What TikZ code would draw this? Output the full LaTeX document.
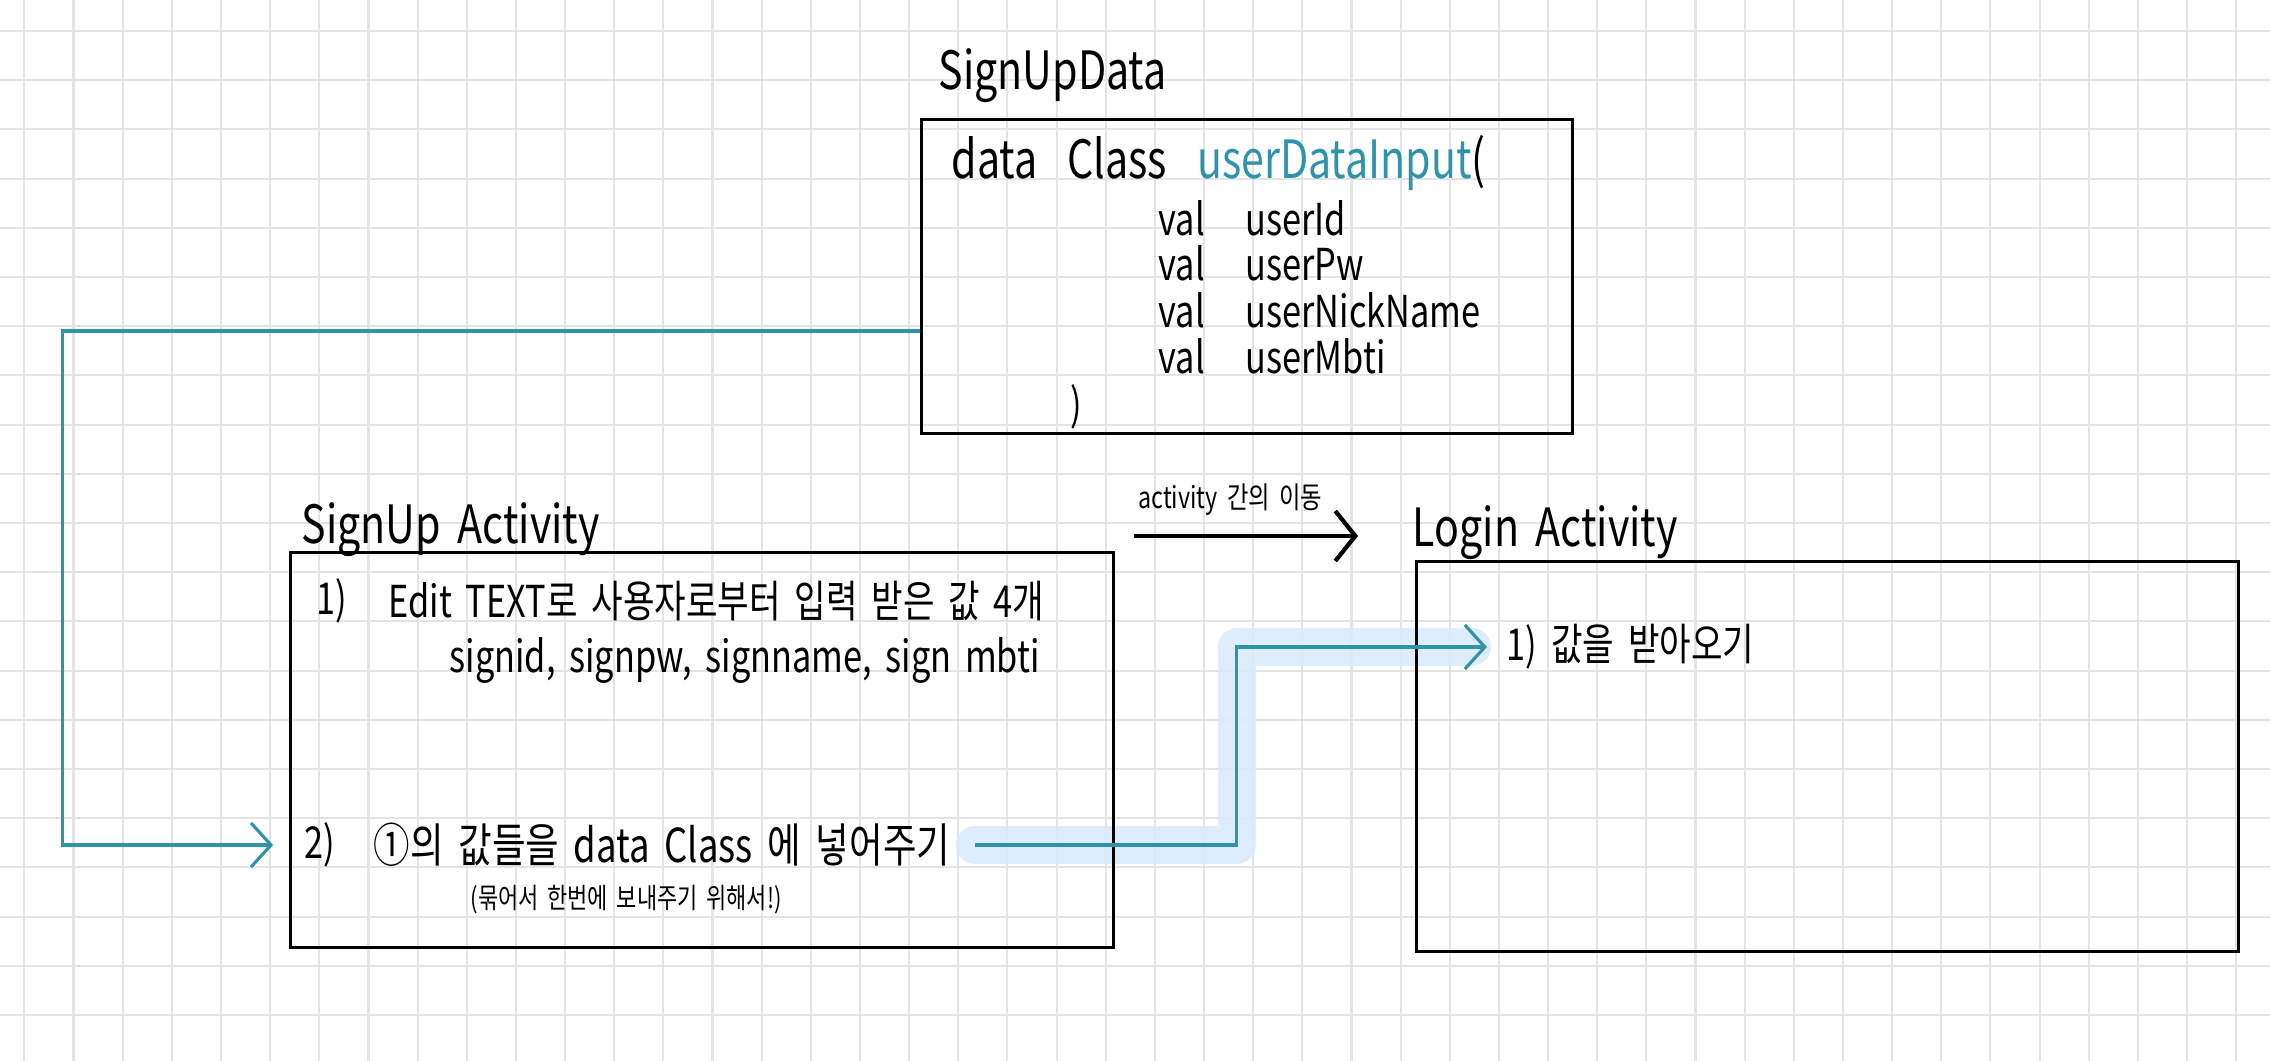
\documentclass[tikz,border=0pt]{standalone}
\usepackage{fontspec}
\setmainfont{Noto Sans CJK KR}[FakeStretch=0.78,WordSpace=1.8]
\usetikzlibrary{arrows.meta,backgrounds}
\definecolor{penteal}{HTML}{2F93AB}
\definecolor{marker}{HTML}{D9EBFC}
\definecolor{gridgray}{HTML}{E4E4E4}

\begin{document}
\begin{tikzpicture}[x=0.01cm,y=-0.01cm,
  box/.style={draw, line width=0.9pt, rectangle, inner sep=0pt},
  txt/.style={anchor=west, inner sep=0pt, font=\fontsize{12.5}{14}\selectfont},
  title/.style={anchor=base west, inner sep=0pt, font=\fontsize{15}{18}\selectfont},
  flow/.style={draw=penteal, line width=0.9pt, -{Straight Barb[length=2mm,width=4.4mm]}}]
\useasboundingbox (0,0) rectangle (2270,1061);

\node[box, minimum width=6.5cm, minimum height=3.13cm] (data) at (1247,276.5) {};
\node[box, minimum width=8.22cm, minimum height=3.94cm] (sign) at (702,750) {};
\node[box, minimum width=8.21cm, minimum height=3.89cm] (login) at (1827.5,756.5) {};

\node[title] (datatitle) at (938,90) {SignUpData};
\node[title] (signtitle) at (301,543) {SignUp Activity};
\node[title] (logintitle) at (1412,546) {Login Activity};

% data class
\node[txt, font=\fontsize{15}{17}\selectfont] (decl) at (951,163) {data\hspace{0.3cm}Class\hspace{0.3cm}\textcolor{penteal}{userDataInput}(};
\foreach \y/\f in {218/userId, 263/userPw, 310/userNickName, 356/userMbti}
  \node[txt] (f-\f) at (1158,\y) {\makebox[0.87cm][l]{val}\f};
\node[txt] (close) at (1070,407) {)};

% signup activity
\node[txt] (num1) at (316,601) {1)};
\node[txt] (s1) at (388,601) {Edit TEXT로 사용자로부터 입력 받은 값 4개};
\node[txt] (s1b) at (449,660) {signid, signpw, signname, sign mbti};
\node[txt] (num2) at (304,845) {2)};
\node[txt, font=\fontsize{13.3}{15}\selectfont] (s2) at (373,845) {①의 값들을 data Class 에 넣어주기};
\node[txt, font=\fontsize{8}{10}\selectfont] (s2b) at (470,900) {(묶어서 한번에 보내주기 위해서!)};

% login activity
\node[txt] (l1) at (1506,647) {1) 값을 받아오기};

% move between activities
\coordinate (mvA) at (1134,536);
\coordinate (mvB) at (1358,536);
\draw[line width=1.2pt, -{Straight Barb[length=2mm,width=5mm]}] (mvA) -- node[pos=0.43, above=2pt, font=\fontsize{8.5}{10}\selectfont] (mvlabel) {activity 간의 이동} (mvB);

% connectors
\path (sign.east |- s2.east) ++(-140,0) coordinate (gostart);
\draw[flow] ([yshift=-5.45mm]data.west) -- ++(-858,0) |- ([xshift=-1.6mm]sign.west |- num2.west);
\draw[flow] (gostart) -- ++(262,0) |- ([xshift=-1.9mm]l1.west);

\begin{scope}[on background layer]
  \foreach \i in {0,...,45}
    \draw[gridgray, line width=0.6pt] (24.4+49.15*\i,0) -- (24.4+49.15*\i,1061);
  \foreach \j in {0,...,20}
    \draw[gridgray, line width=0.6pt] (0,31+49.2*\j) -- (2270,31+49.2*\j);
  \draw[marker, opacity=0.9, line width=0.38cm, line cap=round, line join=round]
    (gostart) -- ++(262,0) |- ([xshift=-3.4mm]l1.west);
\end{scope}
\end{tikzpicture}
\end{document}
